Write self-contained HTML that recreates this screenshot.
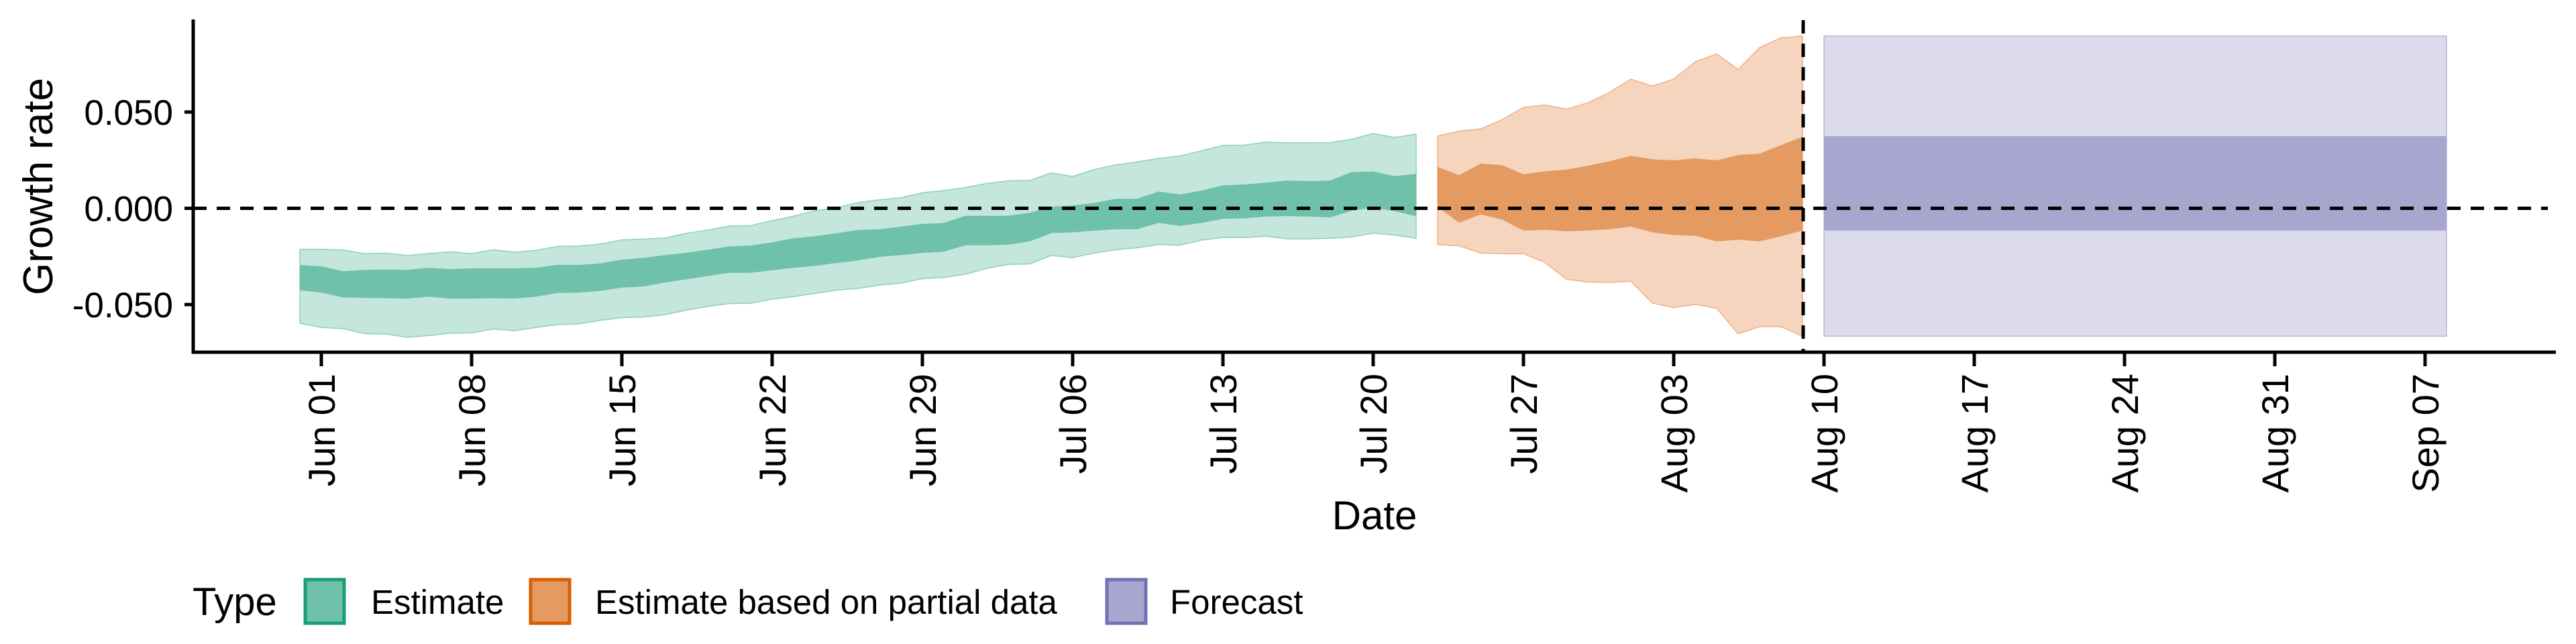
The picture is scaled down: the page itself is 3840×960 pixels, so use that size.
<!DOCTYPE html>
<html><head><meta charset="utf-8"><style>
html,body{margin:0;padding:0;background:#fff;}
svg{display:block;font-family:"Liberation Sans",Arial,sans-serif;}
</style></head><body>
<svg id="chart" width="3840" height="960" viewBox="0 0 3840 960"></svg>
<script>
const estDates=["05-31","06-01","06-02","06-03","06-04","06-05","06-06","06-07","06-08","06-09","06-10","06-11","06-12","06-13","06-14","06-15","06-16","06-17","06-18","06-19","06-20","06-21","06-22","06-23","06-24","06-25","06-26","06-27","06-28","06-29","06-30","07-01","07-02","07-03","07-04","07-05","07-06","07-07","07-08","07-09","07-10","07-11","07-12","07-13","07-14","07-15","07-16","07-17","07-18","07-19","07-20","07-21","07-22"];
const estUpper90=[-0.0213,-0.0213,-0.0216,-0.0235,-0.0233,-0.0245,-0.0235,-0.0226,-0.0235,-0.0215,-0.0228,-0.0218,-0.0198,-0.0196,-0.0186,-0.0164,-0.0160,-0.0154,-0.0130,-0.0113,-0.0092,-0.0090,-0.0064,-0.0041,-0.0013,0.0002,0.0030,0.0044,0.0055,0.0081,0.0092,0.0108,0.0129,0.0143,0.0144,0.0184,0.0165,0.0201,0.0225,0.0241,0.0259,0.0272,0.0299,0.0327,0.0328,0.0344,0.0340,0.0340,0.0341,0.0359,0.0388,0.0368,0.0385];
const estUpper50=[-0.0295,-0.0301,-0.0327,-0.0320,-0.0318,-0.0320,-0.0309,-0.0316,-0.0312,-0.0312,-0.0312,-0.0309,-0.0294,-0.0294,-0.0286,-0.0267,-0.0258,-0.0243,-0.0231,-0.0215,-0.0198,-0.0194,-0.0177,-0.0156,-0.0145,-0.0130,-0.0113,-0.0109,-0.0095,-0.0081,-0.0076,-0.0039,-0.0039,-0.0039,-0.0023,0.0008,0.0015,0.0028,0.0049,0.0049,0.0087,0.0072,0.0092,0.0119,0.0124,0.0133,0.0144,0.0141,0.0144,0.0188,0.0191,0.0167,0.0179];
const estLower50=[-0.0425,-0.0438,-0.0463,-0.0465,-0.0467,-0.0469,-0.0459,-0.0469,-0.0469,-0.0467,-0.0469,-0.0459,-0.0440,-0.0438,-0.0429,-0.0412,-0.0406,-0.0386,-0.0369,-0.0352,-0.0335,-0.0335,-0.0322,-0.0309,-0.0299,-0.0284,-0.0271,-0.0252,-0.0243,-0.0232,-0.0225,-0.0192,-0.0192,-0.0189,-0.0172,-0.0129,-0.0125,-0.0116,-0.0109,-0.0109,-0.0076,-0.0092,-0.0076,-0.0055,-0.0052,-0.0043,-0.0040,-0.0043,-0.0048,-0.0012,0.0004,-0.0015,-0.0041];
const estLower90=[-0.0597,-0.0619,-0.0625,-0.0651,-0.0653,-0.0670,-0.0661,-0.0649,-0.0647,-0.0627,-0.0636,-0.0619,-0.0604,-0.0600,-0.0582,-0.0568,-0.0565,-0.0553,-0.0529,-0.0510,-0.0495,-0.0493,-0.0472,-0.0459,-0.0442,-0.0425,-0.0416,-0.0399,-0.0389,-0.0365,-0.0359,-0.0343,-0.0312,-0.0292,-0.0289,-0.0245,-0.0256,-0.0232,-0.0215,-0.0205,-0.0188,-0.0192,-0.0165,-0.0152,-0.0152,-0.0145,-0.0159,-0.0159,-0.0156,-0.0149,-0.0129,-0.0139,-0.0156];
const partDates=["07-23","07-24","07-25","07-26","07-27","07-28","07-29","07-30","07-31","08-01","08-02","08-03","08-04","08-05","08-06","08-07","08-08","08-09"];
const partUpper90=[0.0375,0.0401,0.0412,0.0460,0.0524,0.0537,0.0515,0.0548,0.0601,0.0671,0.0635,0.0671,0.0761,0.0801,0.0721,0.0835,0.0885,0.0895];
const partUpper50=[0.0215,0.0172,0.0232,0.0224,0.0177,0.0192,0.0201,0.0221,0.0244,0.0273,0.0255,0.0249,0.0259,0.0249,0.0277,0.0284,0.0328,0.0372];
const partLower50=[0.0008,-0.0075,-0.0032,-0.0059,-0.0116,-0.0112,-0.0119,-0.0116,-0.0109,-0.0095,-0.0125,-0.0139,-0.0143,-0.0172,-0.0163,-0.0172,-0.0145,-0.0116];
const partLower90=[-0.0189,-0.0195,-0.0232,-0.0236,-0.0236,-0.0281,-0.0369,-0.0383,-0.0385,-0.0379,-0.0492,-0.0516,-0.0499,-0.0519,-0.0652,-0.0615,-0.0615,-0.0665];
const fcDates=["08-10","09-08"];
const fcUpper90=[0.0895,0.0895];
const fcUpper50=[0.0375,0.0375];
const fcLower50=[-0.0116,-0.0116];
const fcLower90=[-0.0664,-0.0664];
const xTickDates=["06-01","06-08","06-15","06-22","06-29","07-06","07-13","07-20","07-27","08-03","08-10","08-17","08-24","08-31","09-07"];
const xTickLabels=["Jun 01","Jun 08","Jun 15","Jun 22","Jun 29","Jul 06","Jul 13","Jul 20","Jul 27","Aug 03","Aug 10","Aug 17","Aug 24","Aug 31","Sep 07"];
const yTicks=[0.05,0,-0.05];
const yTickLabels=["0.050","0.000","-0.050"];
const cutoffDate="08-09";

const NS="http://www.w3.org/2000/svg";
const svg=document.getElementById('chart');
function dayIdx(s){const p=s.split('-');return (Date.UTC(2020,+p[0]-1,+p[1])-Date.UTC(2020,4,31))/86400000;}
function xS(s){return 447+32*dayIdx(s);}
function yS(v){return 310.5-v*2870;}
function mk(tag,attrs){const e=document.createElementNS(NS,tag);for(const k in attrs)e.setAttribute(k,attrs[k]);svg.appendChild(e);return e;}
function ribbon(dates,up,lo,fill,stroke,name){
  let pts=dates.map((d,i)=>xS(d)+','+yS(up[i]));
  for(let i=dates.length-1;i>=0;i--)pts.push(xS(dates[i])+','+yS(lo[i]));
  const p=mk('polygon',{points:pts.join(' '),fill:fill,stroke:stroke,'stroke-width':1.5});
  
  
}
ribbon(estDates,estUpper90,estLower90,'#c4e6dc','#8fd0bd','estimate-90-band');
ribbon(estDates,estUpper50,estLower50,'#6fc1a9','none','estimate-50-band');
ribbon(partDates,partUpper90,partLower90,'#f5d5bd','#f0b088','partial-90-band');
ribbon(partDates,partUpper50,partLower50,'#e59a61','none','partial-50-band');
ribbon(fcDates,fcUpper90,fcLower90,'#dcdbeb','#b9b6da','forecast-90-band');
ribbon(fcDates,fcUpper50,fcLower50,'#a8a5cf','none','forecast-50-band');

let e;
e=mk('line',{x1:288,x2:3798,y1:yS(0),y2:yS(0),stroke:'#000','stroke-width':5,'stroke-dasharray':'20,15'});


e=mk('line',{x1:xS(cutoffDate)+1,x2:xS(cutoffDate)+1,y1:30,y2:525,stroke:'#000','stroke-width':5,'stroke-dasharray':'20,15'});


e=mk('line',{x1:288,x2:288,y1:29,y2:527,stroke:'#000','stroke-width':5});


e=mk('line',{x1:286,x2:3810,y1:525,y2:525,stroke:'#000','stroke-width':5});



yTicks.forEach((v,i)=>{
  const t=mk('line',{x1:275,x2:288,y1:yS(v),y2:yS(v),stroke:'#000','stroke-width':5});
  
  
  const l=mk('text',{x:258,y:yS(v)+19,'text-anchor':'end','font-size':53,fill:'#000'});
  l.textContent=yTickLabels[i];
  
  
});
xTickDates.forEach((d,i)=>{
  const x=xS(d);
  const t=mk('line',{x1:x,x2:x,y1:525,y2:546,stroke:'#000','stroke-width':5});
  
  
  const l=mk('text',{x:0,y:0,'text-anchor':'end','font-size':56,fill:'#000',transform:'translate('+(x+20)+',557) rotate(-90)'});
  l.textContent=xTickLabels[i];
  
  
});
e=mk('text',{x:0,y:0,'text-anchor':'middle','font-size':62,fill:'#000',transform:'translate(78,278) rotate(-90)'});
e.textContent='Growth rate';


e=mk('text',{x:2049,y:789,'text-anchor':'middle','font-size':60,fill:'#000'});
e.textContent='Date';


e=mk('text',{x:287,y:917,'font-size':58,fill:'#000'});
e.textContent='Type';


const legKeys=[[455,'#6fc1a9','#1b9e77',553,'Estimate','legend-entry-estimate'],[791,'#e59a61','#d95f02',887,'Estimate based on partial data','legend-entry-partial'],[1650,'#a8a5cf','#7570b3',1744,'Forecast','legend-entry-forecast']];
legKeys.forEach(k=>{
  const r=mk('rect',{x:k[0],y:864,width:58,height:65,fill:k[1],stroke:k[2],'stroke-width':5});
  
  
  const t=mk('text',{x:k[3],y:915,'font-size':51,fill:'#000'});
  t.textContent=k[4];
  
  
});
</script>
</body></html>
